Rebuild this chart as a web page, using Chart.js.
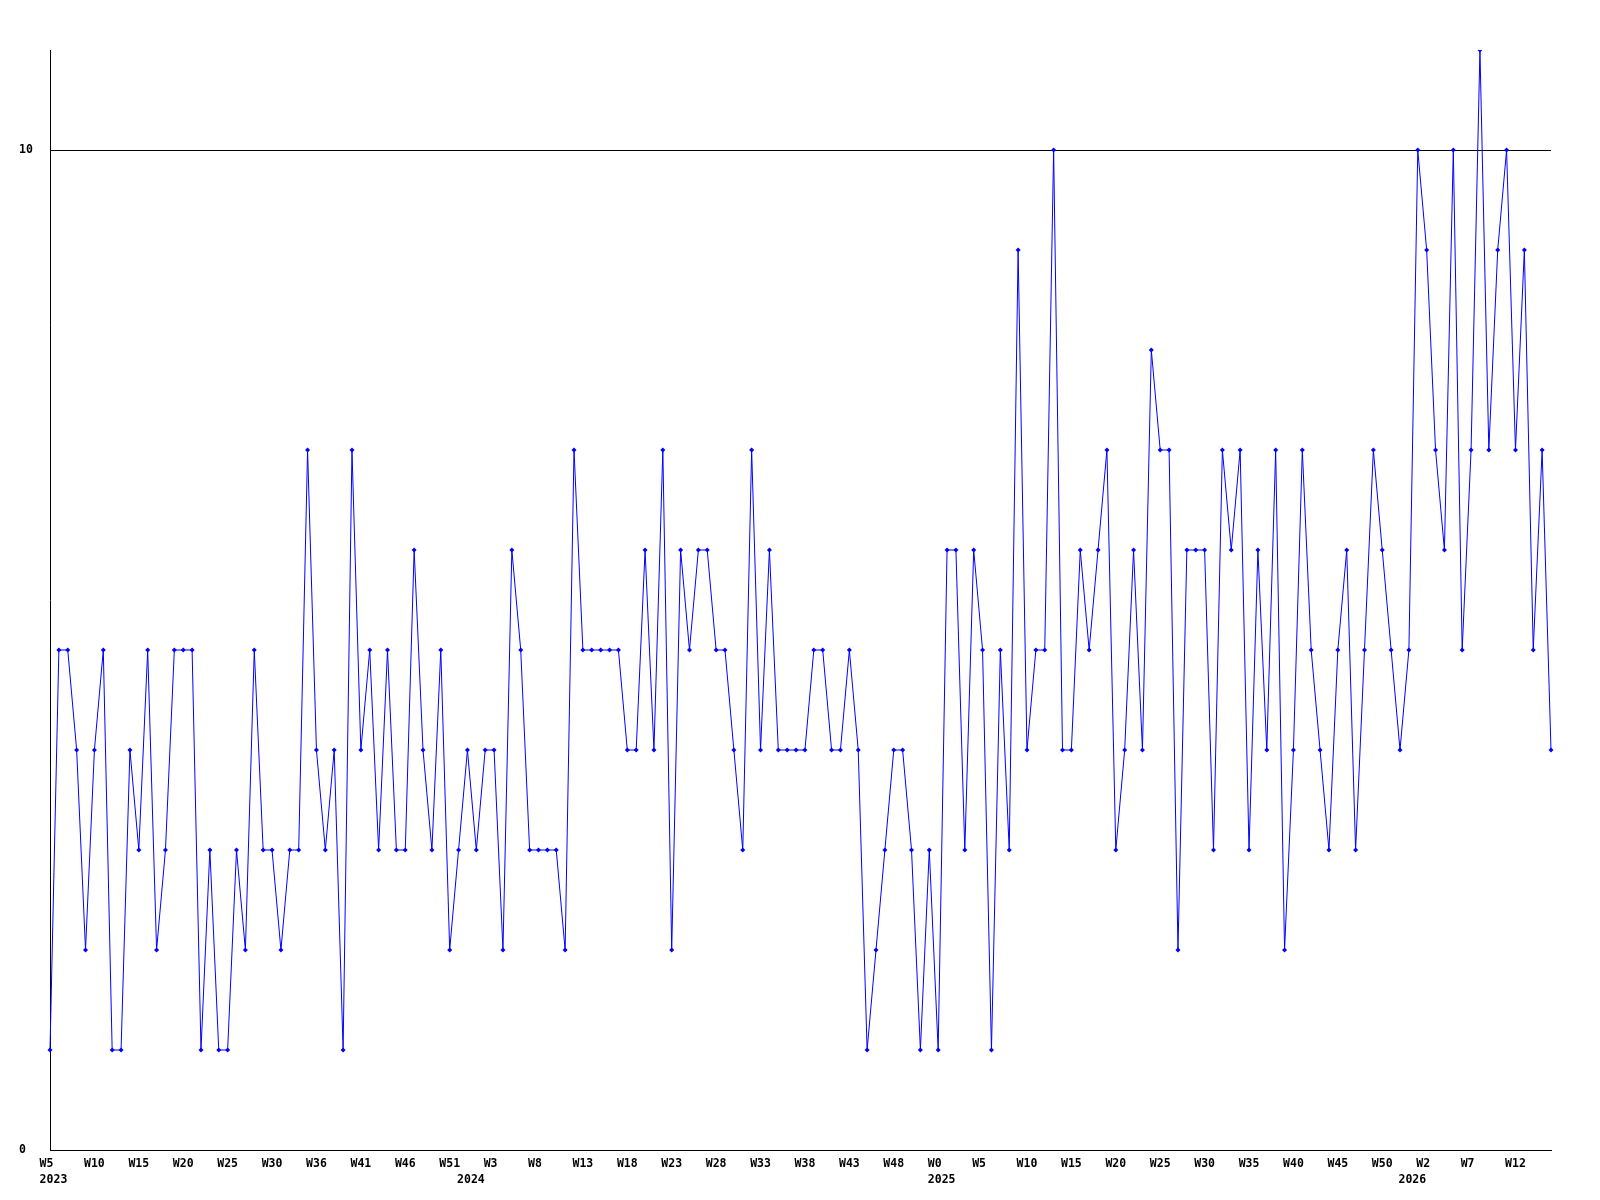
<!DOCTYPE html>
<html>
<head>
<meta charset="utf-8">
<title>Conteo semanal</title>
<script src="https://cdn.jsdelivr.net/npm/chart.js@4/dist/chart.umd.min.js"></script>
<style>
  html, body { margin: 0; padding: 0; background: #fff; }
  #wrap { width: 1600px; height: 1200px; position: relative; }
</style>
</head>
<body>
<div id="wrap"><canvas id="weekChart"></canvas></div>
<script>
// Valores semanales (uno por semana, desde W5 de 2023)
const counts = [
  1, 5, 5, 4, 2, 4, 5, 1, 1, 4,
  3, 5, 2, 3, 5, 5, 5, 1, 3, 1,
  1, 3, 2, 5, 3, 3, 2, 3, 3, 7,
  4, 3, 4, 1, 7, 4, 5, 3, 5, 3,
  3, 6, 4, 3, 5, 2, 3, 4, 3, 4,
  4, 2, 6, 5, 3, 3, 3, 3, 2, 7,
  5, 5, 5, 5, 5, 4, 4, 6, 4, 7,
  2, 6, 5, 6, 6, 5, 5, 4, 3, 7,
  4, 6, 4, 4, 4, 4, 5, 5, 4, 4,
  5, 4, 1, 2, 3, 4, 4, 3, 1, 3,
  1, 6, 6, 3, 6, 5, 1, 5, 3, 9,
  4, 5, 5, 10, 4, 4, 6, 5, 6, 7,
  3, 4, 6, 4, 8, 7, 7, 2, 6, 6,
  6, 3, 7, 6, 7, 3, 6, 4, 7, 2,
  4, 7, 5, 4, 3, 5, 6, 3, 5, 7,
  6, 5, 4, 5, 10, 9, 7, 6, 10, 5,
  7, 11, 7, 9, 10, 7, 9, 5, 7, 4
];

// Etiquetas de semana que se muestran (una cada 5 semanas)
const weekTicks = [
  'W5', 'W10', 'W15', 'W20', 'W25', 'W30', 'W36', 'W41', 'W46', 'W51',
  'W3', 'W8', 'W13', 'W18', 'W23', 'W28', 'W33', 'W38', 'W43', 'W48',
  'W0', 'W5', 'W10', 'W15', 'W20', 'W25', 'W30', 'W35', 'W40', 'W45', 'W50',
  'W2', 'W7', 'W12'
];
const weekStep = 5;

// Años y la semana (posición en la serie) en la que empieza cada uno
const years = ['2023', '2024', '2025', '2026'];
const yearStart = [0, 47, 100, 153];

// Eje Y: solo se rotulan 0 y 10
const yTicks = [0, 10];
const yMax = 11;

const labels = counts.map((_, i) => i);

// Las etiquetas se alinean como texto de 3 caracteres (estilo gráfico antiguo)
function padWeek(s) { return s.length < 3 ? s + ' ' : s; }
function padYear(s) { return ' ' + s; }

function tickLabel(i) {
  const week = i % weekStep === 0 ? padWeek(weekTicks[i / weekStep]) : null;
  const y = yearStart.indexOf(i);
  if (y >= 0) return [week || '', padYear(years[y])];
  return week;
}

const font = { family: '"DejaVu Sans Mono", "Liberation Mono", monospace', size: 11.5, weight: 'bold', lineHeight: '16px' };

const ctx = document.getElementById('weekChart').getContext('2d');
new Chart(ctx, {
  type: 'line',
  data: {
    labels: labels,
    datasets: [{
      data: counts,
      borderColor: '#0000ff',
      backgroundColor: '#0000ff',
      borderWidth: 1,
      tension: 0,
      fill: false,
      pointStyle: 'rectRot',
      pointRadius: 2.5,
      pointBorderWidth: 0
    }]
  },
  options: {
    responsive: true,
    maintainAspectRatio: false,
    animation: false,
    layout: { padding: { left: 19, right: 49, top: 50, bottom: 0 } },
    plugins: {
      legend: { display: false },
      tooltip: { enabled: false }
    },
    scales: {
      x: {
        type: 'category',
        offset: false,
        grid: { display: false, drawTicks: false },
        border: { display: true, color: '#000', width: 1 },
        afterFit: s => { s.height = 50; },
        ticks: {
          autoSkip: false,
          maxRotation: 0,
          minRotation: 0,
          padding: 6,
          color: '#000',
          font: font,
          callback: (v, i) => tickLabel(i)
        }
      },
      y: {
        min: 0,
        max: yMax,
        grid: { color: '#000', lineWidth: 1, drawTicks: false },
        border: { display: true, color: '#000', width: 1 },
        afterFit: s => { s.width = 31; },
        afterBuildTicks: s => { s.ticks = yTicks.map(v => ({ value: v })); },
        ticks: {
          crossAlign: 'far',
          padding: 0,
          color: '#000',
          font: font
        }
      }
    }
  }
});
</script>
</body>
</html>
